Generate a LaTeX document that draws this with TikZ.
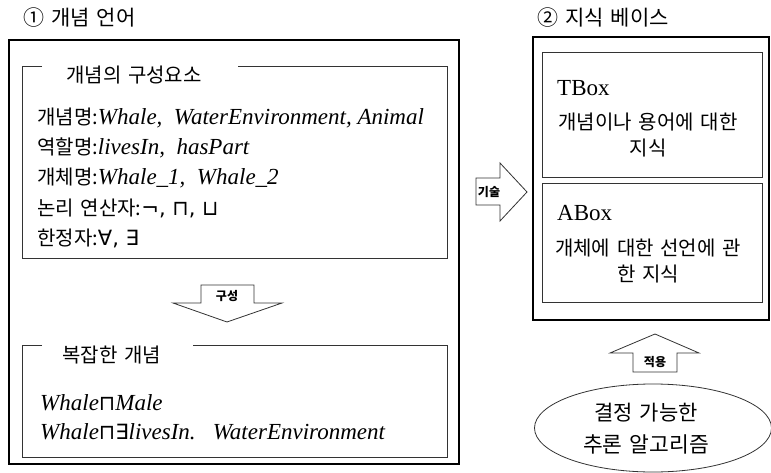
\documentclass[tikz,border=0pt]{standalone}
\usepackage{fontspec}
\usetikzlibrary{shapes.geometric}
\setmainfont{Liberation Serif}
\newfontfamily\kr[WordSpace=1.5]{Noto Sans CJK KR}
\newfontfamily\sym{DejaVu Sans}
\newcommand\latsz{\fontsize{23}{26}\selectfont}
\newcommand\symsz{\fontsize{21}{24}\selectfont}
\begin{document}
\begin{tikzpicture}[x=1pt,y=-1pt,
  outerbox/.style={draw=black,line width=1.8pt},
  innerline/.style={draw=black!80,line width=0.8pt},
  arrowshape/.style={draw=black!80,line width=0.8pt,fill=white},
  title/.style={font=\kr\fontsize{21}{24}\selectfont,anchor=west,inner sep=0pt},
  ktext/.style={font=\kr\fontsize{20}{24}\selectfont,anchor=west,inner sep=0pt},
  ctext/.style={font=\kr\fontsize{20}{24}\selectfont,anchor=center,inner sep=0pt},
  small/.style={font=\kr\bfseries\fontsize{12}{14}\selectfont,inner sep=0pt},
  lat/.style={font=\latsz,anchor=west,inner sep=0pt}
]
\useasboundingbox (0,0) rectangle (771,473);

% titles
\node[title] (t1) at (23,18) {① 개념 언어};
\node[title] (t2) at (537,18) {② 지식 베이스};

% left outer box
\draw[outerbox] (9,40) rectangle (459,464);

% inner box 1
\draw[innerline] (42,66) -- (22,66) -- (22,258) -- (447,258) -- (447,66) -- (238,66);
\node[ktext] (h1) at (66,75) {개념의 구성요소};
\node[ktext] (l1) at (37,118) {개념명:\latsz\rmfamily\itshape Whale,\ \ WaterEnvironment, Animal};
\node[ktext] (l2) at (37,148) {역할명:\latsz\rmfamily\itshape livesIn,\ \ hasPart};
\node[ktext] (l3) at (37,178) {개체명:\latsz\rmfamily\itshape Whale\_1,\ \ Whale\_2};
\node[ktext] (l4) at (37,208) {논리 연산자:{\sym\symsz ¬, ⊓, ⊔}};
\node[ktext] (l5) at (37,238) {한정자:{\sym\symsz ∀, ∃}};

% down arrow
\draw[arrowshape] (201,285) -- (254,285) -- (254,303) -- (282,303) -- (227,322) -- (173,303) -- (201,303) -- cycle;
\node[small] (a1) at (227,296) {구성};

% inner box 2
\draw[innerline] (42,345) -- (22,345) -- (22,457) -- (447,457) -- (447,345) -- (193,345);
\node[ktext] (h2) at (62,355) {복잡한 개념};
\node[lat] (m1) at (40,403) {\itshape Whale{\upshape\sym\symsz ⊓}Male};
\node[lat] (m2) at (40,432) {\itshape Whale{\upshape\sym\symsz ⊓∃}livesIn.\ \ \ WaterEnvironment};

% right arrow
\draw[arrowshape] (476,178) -- (500,178) -- (500,163) -- (527,192) -- (500,221) -- (500,205) -- (476,205) -- cycle;
\node[small] (a2) at (489,192) {기술};

% right outer box
\draw[outerbox] (533,37) rectangle (769,320);
\draw[innerline] (542,52) rectangle (762,177);
\draw[innerline] (542,183) rectangle (762,302);
\node[lat] (tb) at (557,88) {TBox};
\node[ctext] (tb1) at (648,122) {개념이나 용어에 대한};
\node[ctext] (tb2) at (648,148) {지식};
\node[lat] (ab) at (557,213) {ABox};
\node[ctext] (ab1) at (648,248) {개체에 대한 선언에 관};
\node[ctext] (ab2) at (648,274) {한 지식};

% up arrow
\draw[arrowshape] (633,372) -- (677,372) -- (677,353) -- (699,353) -- (655,334) -- (610,353) -- (633,353) -- cycle;
\node[small] (a3) at (655,362) {적용};

% ellipse
\node[draw=black!80,line width=0.8pt,ellipse,minimum width=237,minimum height=88,inner sep=0pt] (el) at (653,428) {};
\node[ctext,font=\kr\fontsize{21}{24}\selectfont] (e1) at (646,413) {결정 가능한};
\node[ctext,font=\kr\fontsize{21.5}{24}\selectfont] (e2) at (646,444) {추론 알고리즘};
\end{tikzpicture}
\end{document}
